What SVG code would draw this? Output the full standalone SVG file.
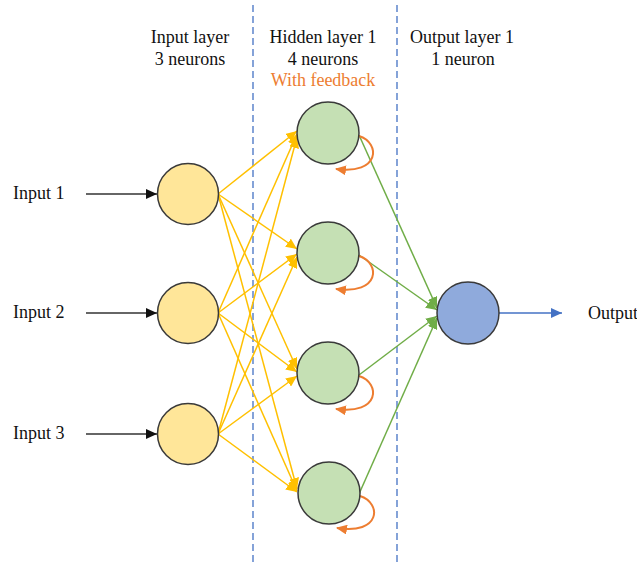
<svg xmlns="http://www.w3.org/2000/svg" width="637" height="562" viewBox="0 0 637 562">
  <style>
    text { font-family: "Liberation Serif", "Times New Roman", serif; font-size: 18px; fill: #111111; }
    .hdr { text-anchor: middle; }
    .fb { fill: #ED7D31; }
    .divider { stroke: #4472C4; stroke-width: 1.3; stroke-dasharray: 7 4; fill: none; }
    .in-edge { stroke: #333333; stroke-width: 1.3; fill: none; }
    .w1 { stroke: #FFC000; stroke-width: 1.5; fill: none; }
    .w2 { stroke: #70AD47; stroke-width: 1.5; fill: none; }
    .loop { stroke: #ED7D31; stroke-width: 2; fill: none; }
    .out-edge { stroke: #4472C4; stroke-width: 1.5; fill: none; }
    .n { stroke: #3a3a3a; stroke-width: 1.5; }
    .n-in { fill: #FFE699; }
    .n-hid { fill: #C5E0B4; }
    .n-out { fill: #8FAADC; }
  </style>
  <defs>
    <marker id="ah-black" markerUnits="userSpaceOnUse" markerWidth="12" markerHeight="10" refX="11" refY="5" orient="auto">
      <path d="M0,0 L11,5 L0,10 Z" fill="#111111"/>
    </marker>
    <marker id="ah-yellow" markerUnits="userSpaceOnUse" markerWidth="12" markerHeight="10" refX="11" refY="5" orient="auto">
      <path d="M0,0 L11,5 L0,10 Z" fill="#FFC000"/>
    </marker>
    <marker id="ah-green" markerUnits="userSpaceOnUse" markerWidth="12" markerHeight="10" refX="11" refY="5" orient="auto">
      <path d="M0,0 L11,5 L0,10 Z" fill="#70AD47"/>
    </marker>
    <marker id="ah-orange" markerUnits="userSpaceOnUse" markerWidth="12" markerHeight="10" refX="10" refY="5" orient="auto">
      <path d="M0,0 L11,5 L0,10 Z" fill="#ED7D31"/>
    </marker>
    <marker id="ah-blue" markerUnits="userSpaceOnUse" markerWidth="12" markerHeight="10" refX="11" refY="5" orient="auto">
      <path d="M0,0 L11,5 L0,10 Z" fill="#4472C4"/>
    </marker>
  </defs>

  <!-- layer dividers -->
  <line class="divider" x1="253" y1="5" x2="253" y2="562"/>
  <line class="divider" x1="397" y1="5" x2="397" y2="562"/>

  <!-- layer headings -->
  <g id="headings">
    <text class="hdr" x="190" y="43">Input layer</text>
    <text class="hdr" x="190" y="65">3 neurons</text>
    <text class="hdr" x="323" y="43">Hidden layer 1</text>
    <text class="hdr" x="323" y="65">4 neurons</text>
    <text class="hdr fb" x="323" y="86">With feedback</text>
    <text class="hdr" x="462" y="43">Output layer 1</text>
    <text class="hdr" x="463" y="65">1 neuron</text>
  </g>

  <!-- connectors -->
  <g id="connectors">
    <!-- external inputs -->
    <line class="in-edge" x1="86" y1="194" x2="157" y2="194" marker-end="url(#ah-black)"/>
    <line class="in-edge" x1="86" y1="313" x2="157" y2="313" marker-end="url(#ah-black)"/>
    <line class="in-edge" x1="86" y1="434" x2="157" y2="434" marker-end="url(#ah-black)"/>

    <!-- input -> hidden -->
    <line class="w1" x1="218" y1="194" x2="297" y2="131" marker-end="url(#ah-yellow)"/>
    <line class="w1" x1="218" y1="313" x2="297" y2="134" marker-end="url(#ah-yellow)"/>
    <line class="w1" x1="218" y1="434" x2="297" y2="137" marker-end="url(#ah-yellow)"/>
    <line class="w1" x1="218" y1="194" x2="297" y2="249" marker-end="url(#ah-yellow)"/>
    <line class="w1" x1="218" y1="313" x2="297" y2="254" marker-end="url(#ah-yellow)"/>
    <line class="w1" x1="218" y1="434" x2="297" y2="257" marker-end="url(#ah-yellow)"/>
    <line class="w1" x1="218" y1="194" x2="297" y2="369" marker-end="url(#ah-yellow)"/>
    <line class="w1" x1="218" y1="313" x2="297" y2="372" marker-end="url(#ah-yellow)"/>
    <line class="w1" x1="218" y1="434" x2="297" y2="376" marker-end="url(#ah-yellow)"/>
    <line class="w1" x1="218" y1="194" x2="297" y2="489" marker-end="url(#ah-yellow)"/>
    <line class="w1" x1="218" y1="313" x2="297" y2="491" marker-end="url(#ah-yellow)"/>
    <line class="w1" x1="218" y1="434" x2="297" y2="492" marker-end="url(#ah-yellow)"/>

    <!-- hidden -> output -->
    <line class="w2" x1="359" y1="135" x2="437" y2="308" marker-end="url(#ah-green)"/>
    <line class="w2" x1="359" y1="255" x2="437" y2="310" marker-end="url(#ah-green)"/>
    <line class="w2" x1="359" y1="375" x2="437" y2="316" marker-end="url(#ah-green)"/>
    <line class="w2" x1="359" y1="494" x2="437" y2="318" marker-end="url(#ah-green)"/>

    <!-- recurrent self-loops -->
    <path class="loop" d="M359,136 C381,143 380,175 336,169" marker-end="url(#ah-orange)"/>
    <path class="loop" d="M359,256 C381,263 380,295 336,289" marker-end="url(#ah-orange)"/>
    <path class="loop" d="M359,376 C381,383 380,415 336,409" marker-end="url(#ah-orange)"/>
    <path class="loop" d="M360,496 C382,503 381,535 337,528" marker-end="url(#ah-orange)"/>

    <!-- network output -->
    <line class="out-edge" x1="499" y1="313" x2="562" y2="313" marker-end="url(#ah-blue)"/>
  </g>

  <!-- input labels -->
  <g id="input-labels">
    <text x="13" y="199">Input 1</text>
    <text x="13" y="318">Input 2</text>
    <text x="13" y="439">Input 3</text>
  </g>

  <!-- input layer -->
  <g id="in1"><circle class="n n-in" cx="188" cy="194" r="30.5"/></g>
  <g id="in2"><circle class="n n-in" cx="188" cy="313" r="30.5"/></g>
  <g id="in3"><circle class="n n-in" cx="188" cy="434" r="30.5"/></g>

  <!-- hidden layer -->
  <g id="h1"><circle class="n n-hid" cx="328" cy="133" r="31"/></g>
  <g id="h2"><circle class="n n-hid" cx="328" cy="253" r="31"/></g>
  <g id="h3"><circle class="n n-hid" cx="328" cy="373" r="31"/></g>
  <g id="h4"><circle class="n n-hid" cx="329" cy="493" r="31"/></g>

  <!-- output layer -->
  <g id="out1"><circle class="n n-out" cx="468" cy="313" r="31"/></g>
  <g id="output-label"><text x="588" y="319">Output</text></g>
</svg>
